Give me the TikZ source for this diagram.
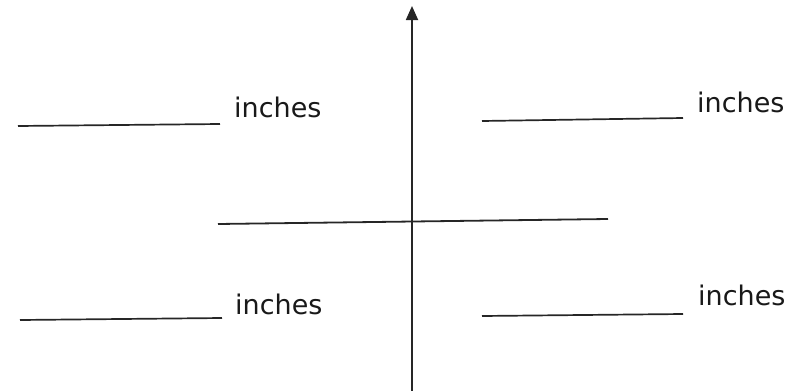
\documentclass[tikz,border=0pt]{standalone}
\usepackage{fontspec}
\setmainfont{DejaVu Sans}
\usetikzlibrary{arrows.meta}
\tikzset{
  blank/.style={line width=1.7pt, draw=black!85},
  axis/.style={line width=1.8pt, draw=black!85},
  unit/.style={anchor=base west, inner sep=0pt, font=\fontsize{27}{30}\selectfont, text=black!90}
}
\begin{document}
\begin{tikzpicture}[x=1pt,y=-1pt]
\useasboundingbox (0,0) rectangle (801,391);
% axes
\coordinate (vtop) at (412,6);
\coordinate (vbot) at (412,391);
\coordinate (hl) at (218,224);
\coordinate (hr) at (608,219);
\draw[axis, -{Triangle[length=14pt,width=12pt]}] (vbot) -- (vtop);
\draw[axis] (hl) -- (hr);
% blanks
\coordinate (b1a) at (18,126); \coordinate (b1b) at (220,124);
\coordinate (b2a) at (482,121); \coordinate (b2b) at (683,118);
\coordinate (b3a) at (20,320); \coordinate (b3b) at (222,318);
\coordinate (b4a) at (482,316); \coordinate (b4b) at (683,314);
\draw[blank] (b1a) -- (b1b);
\draw[blank] (b2a) -- (b2b);
\draw[blank] (b3a) -- (b3b);
\draw[blank] (b4a) -- (b4b);
% labels
\node[unit] (t1) at (234,117) {inches};
\node[unit] (t2) at (697,112) {inches};
\node[unit] (t3) at (235,314) {inches};
\node[unit] (t4) at (698,305) {inches};
\end{tikzpicture}
\end{document}
